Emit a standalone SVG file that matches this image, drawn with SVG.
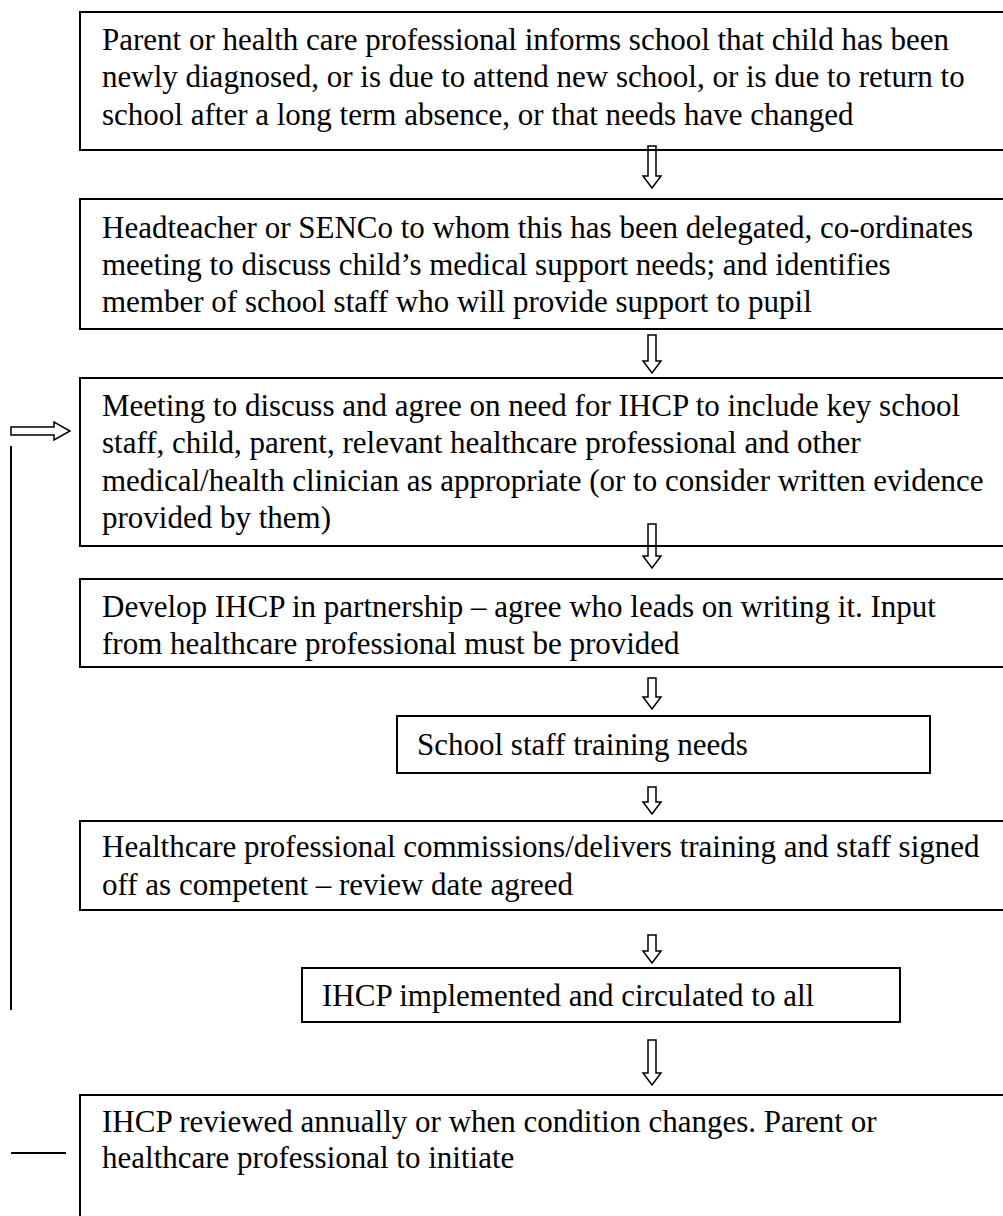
<svg xmlns="http://www.w3.org/2000/svg" width="1003" height="1216" viewBox="0 0 1003 1216">
<style>
.box{fill:none;stroke:#000;stroke-width:2}
.t{font-family:"Liberation Serif","Times New Roman",serif;font-size:31px;fill:#000}
.arr{fill:#fff;stroke:#000;stroke-width:1.5;stroke-linejoin:miter}
.ln{fill:none;stroke:#000;stroke-width:2}
</style>
<rect width="1003" height="1216" fill="#fff"/>
<g id="connectors">
<polygon class="arr" points="648,146 656,146 656,176 661,176 652,188 643,176 648,176"/>
<polygon class="arr" points="648,335 656,335 656,361 661,361 652,373 643,361 648,361"/>
<polygon class="arr" points="648,524 656,524 656,556 661,556 652,568 643,556 648,556"/>
<polygon class="arr" points="648,678 656,678 656,697 661,697 652,709 643,697 648,697"/>
<polygon class="arr" points="648,787 656,787 656,802 661,802 652,814 643,802 648,802"/>
<polygon class="arr" points="648,935 656,935 656,951 661,951 652,963 643,951 648,951"/>
<polygon class="arr" points="648,1040 656,1040 656,1073 661,1073 652,1085 643,1073 648,1073"/>
<polygon class="arr" points="11,427 54,427 54,422 70,431 54,440 54,435 11,435"/>
<line class="ln" x1="11" y1="446" x2="11" y2="1010"/>
<line class="ln" x1="11" y1="1153" x2="66" y2="1153"/>
</g>
<g id="n1">
<rect class="box" x="80" y="12" width="940" height="138"/>
<text class="t" x="102" y="50">Parent or health care professional informs school that child has been</text>
<text class="t" x="102" y="87">newly diagnosed, or is due to attend new school, or is due to return to</text>
<text class="t" x="102" y="125">school after a long term absence, or that needs have changed</text>
</g>
<g id="n2">
<rect class="box" x="80" y="199" width="940" height="130"/>
<text class="t" x="102" y="238">Headteacher or SENCo to whom this has been delegated, co-ordinates</text>
<text class="t" x="102" y="275">meeting to discuss child’s medical support needs; and identifies</text>
<text class="t" x="102" y="312">member of school staff who will provide support to pupil</text>
</g>
<g id="n3">
<rect class="box" x="80" y="378" width="940" height="168"/>
<text class="t" x="102" y="416">Meeting to discuss and agree on need for IHCP to include key school</text>
<text class="t" x="102" y="453">staff, child, parent, relevant healthcare professional and other</text>
<text class="t" x="102" y="491">medical/health clinician as appropriate (or to consider written evidence</text>
<text class="t" x="102" y="528">provided by them)</text>
</g>
<g id="n4">
<rect class="box" x="80" y="579" width="940" height="88"/>
<text class="t" x="102" y="617">Develop IHCP in partnership – agree who leads on writing it. Input</text>
<text class="t" x="102" y="654">from healthcare professional must be provided</text>
</g>
<g id="n5">
<rect class="box" x="397" y="716" width="533" height="57"/>
<text class="t" x="417" y="755">School staff training needs</text>
</g>
<g id="n6">
<rect class="box" x="80" y="821" width="940" height="89"/>
<text class="t" x="102" y="857">Healthcare professional commissions/delivers training and staff signed</text>
<text class="t" x="102" y="895">off as competent – review date agreed</text>
</g>
<g id="n7">
<rect class="box" x="302" y="968" width="598" height="54"/>
<text class="t" x="322" y="1006">IHCP implemented and circulated to all</text>
</g>
<g id="n8">
<rect class="box" x="80" y="1095" width="940" height="140"/>
<text class="t" x="102" y="1132">IHCP reviewed annually or when condition changes. Parent or</text>
<text class="t" x="102" y="1168">healthcare professional to initiate</text>
</g>
</svg>
